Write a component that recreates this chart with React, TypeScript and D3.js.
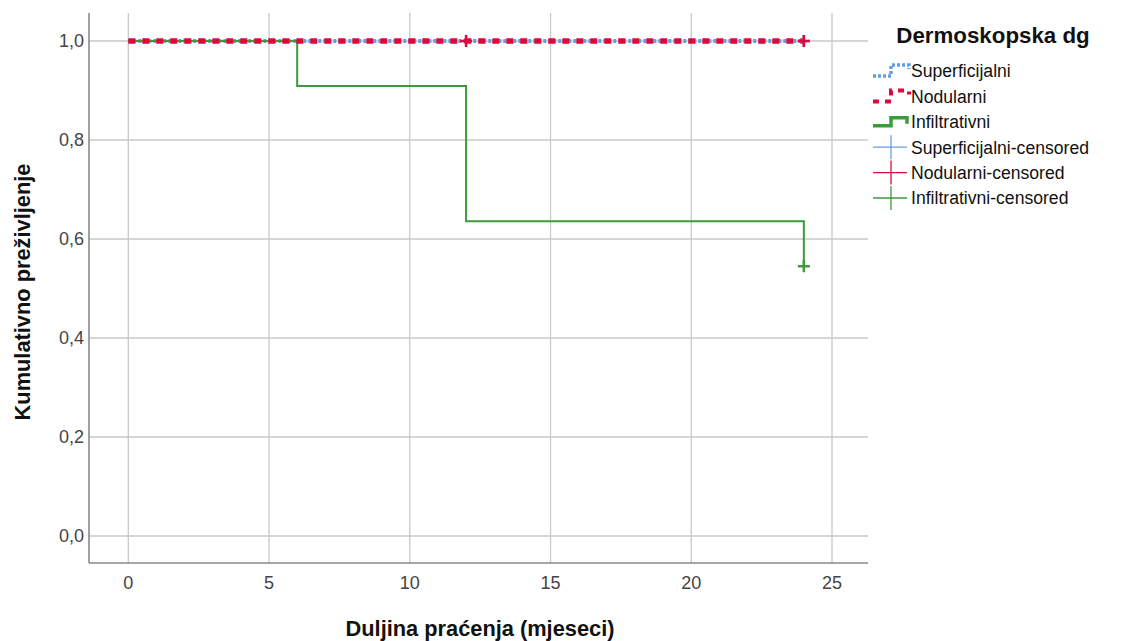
import React from "react";
import * as d3 from "d3";

const xTicks = [0, 5, 10, 15, 20, 25];
const yTicks = [0, 0.2, 0.4, 0.6, 0.8, 1.0];
const yTickLabels = ["0,0", "0,2", "0,4", "0,6", "0,8", "1,0"];

const supTimes = [0, 24];
const supSurv = [1, 1];
const supCensT = [24];
const supCensS = [1];

const nodTimes = [0, 24];
const nodSurv = [1, 1];
const nodCensT = [12, 24];
const nodCensS = [1, 1];

const infTimes = [0, 6, 12, 24];
const infSurv = [1, 0.909, 0.636, 0.545];
const infCensT = [24];
const infCensS = [0.545];

const legendTitle = "Dermoskopska dg";
const legendLabels = [
  "Superficijalni",
  "Nodularni",
  "Infiltrativni",
  "Superficijalni-censored",
  "Nodularni-censored",
  "Infiltrativni-censored",
];

const BLUE = "#64a0e0";
const RED = "#dc0a3c";
const GREEN = "#3c9a3c";
const FONT = "Arial, 'Liberation Sans', sans-serif";

export default function App() {
  const x = d3.scaleLinear().domain([0, 25]).range([128.3, 832]);
  const y = d3.scaleLinear().domain([0, 1]).range([536, 41]);
  const left = 89, right = 868, top = 13, bottom = 563;

  const stepPath = (ts: number[], ss: number[]) => {
    const pts: [number, number][] = ts.map((t, i) => [x(t), y(ss[i])]);
    return d3.line().curve(d3.curveStepAfter)(pts) || "";
  };

  const plus = (cx: number, cy: number, color: string, key: string, w = 2.5, r = 6) => (
    <g key={key} stroke={color} strokeWidth={w}>
      <line x1={cx - r} x2={cx + r} y1={cy} y2={cy} />
      <line x1={cx} x2={cx} y1={cy - r} y2={cy + r} />
    </g>
  );

  const lgX0 = 873, lgX1 = 909, lgMid = 891;
  const rowY = (i: number) => 71 + i * 25.4;

  return (
    <svg width={1124} height={641} style={{ display: "block", position: "absolute", left: 0, top: 0, background: "#fff" }}>
      {/* grid */}
      {xTicks.map((t) => (
        <line key={"gx" + t} x1={x(t)} x2={x(t)} y1={top} y2={bottom} stroke="#c8c8c8" strokeWidth={1.3} />
      ))}
      {yTicks.map((t) => (
        <line key={"gy" + t} x1={left} x2={right} y1={y(t)} y2={y(t)} stroke="#c8c8c8" strokeWidth={1.3} />
      ))}
      {/* axes */}
      <line x1={left} x2={left} y1={top} y2={bottom} stroke="#8a8a8a" strokeWidth={1.6} />
      <line x1={left} x2={right} y1={bottom} y2={bottom} stroke="#8a8a8a" strokeWidth={1.6} />
      {/* tick labels */}
      {yTicks.map((t, i) => (
        <text key={"yl" + t} x={84} y={y(t)} dy="0.36em" textAnchor="end" fontFamily={FONT} fontSize={18} fill="#444">
          {yTickLabels[i]}
        </text>
      ))}
      {xTicks.map((t) => (
        <text key={"xl" + t} x={x(t)} y={583} dy="0.36em" textAnchor="middle" fontFamily={FONT} fontSize={18} fill="#444">
          {t}
        </text>
      ))}
      {/* axis titles */}
      <text x={480} y={628} dy="0.36em" textAnchor="middle" fontFamily={FONT} fontWeight="bold" fontSize={21.8} fill="#111">
        Duljina praćenja (mjeseci)
      </text>
      <text transform="translate(22,292) rotate(-90)" dy="0.36em" textAnchor="middle" fontFamily={FONT} fontWeight="bold" fontSize={21.8} fill="#111">
        Kumulativno preživljenje
      </text>

      {/* curves */}
      <path d={stepPath(supTimes, supSurv)} fill="none" stroke={BLUE} strokeWidth={4} strokeDasharray="3,2" />
      <path d={stepPath(infTimes, infSurv)} fill="none" stroke={GREEN} strokeWidth={2} />
      <path d={stepPath(nodTimes, nodSurv)} fill="none" stroke={RED} strokeWidth={5.5} strokeDasharray="7,7" />
      {supCensT.map((t, i) => plus(x(t), y(supCensS[i]), BLUE, "sc" + i))}
      {infCensT.map((t, i) => plus(x(t), y(infCensS[i]), GREEN, "ic" + i))}
      {nodCensT.map((t, i) => plus(x(t), y(nodCensS[i]), RED, "nc" + i))}

      {/* legend */}
      <text x={993} y={35} dy="0.36em" textAnchor="middle" fontFamily={FONT} fontWeight="bold" fontSize={22.3} fill="#111">
        {legendTitle}
      </text>
      <path d={`M${lgX0},${rowY(0) + 5}H${lgMid}V${rowY(0) - 6}H${lgX1}V${rowY(0) - 2}`} fill="none" stroke={BLUE} strokeWidth={3.5} strokeDasharray="3,2" />
      <path d={`M${lgX0},${rowY(1) + 5}H${lgMid}V${rowY(1) - 6}H${lgX1}V${rowY(1) - 2}`} fill="none" stroke={RED} strokeWidth={4} strokeDasharray="6,6" />
      <path d={`M${lgX0},${rowY(2) + 4}H${lgMid}V${rowY(2) - 4}H${lgX1 - 2}V${rowY(2) + 2}`} fill="none" stroke={GREEN} strokeWidth={3.5} />
      {[BLUE, RED, GREEN].map((c, i) => (
        <g key={"lc" + i} stroke={c} strokeWidth={1.3}>
          <line x1={lgX0} x2={lgX1 - 2} y1={rowY(3 + i)} y2={rowY(3 + i)} />
          <line x1={lgMid} x2={lgMid} y1={rowY(3 + i) - 12} y2={rowY(3 + i) + 12} />
        </g>
      ))}
      {legendLabels.map((l, i) => (
        <text key={"lt" + i} x={911} y={rowY(i)} dy="0.36em" fontFamily={FONT} fontSize={17.6} fill="#111">
          {l}
        </text>
      ))}
    </svg>
  );
}
